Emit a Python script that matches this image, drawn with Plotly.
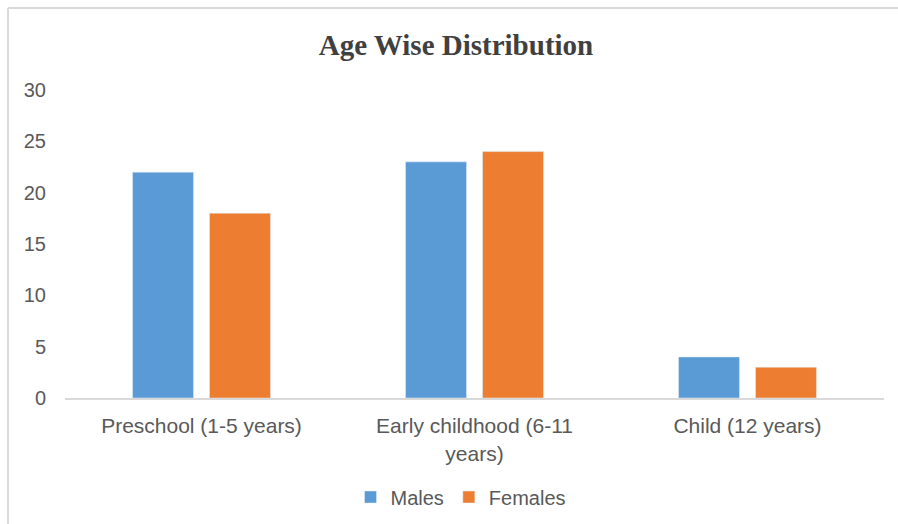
import plotly.graph_objects as go

categories = ["Preschool (1-5 years)", "Early childhood (6-11<br>years)", "Child (12 years)"]
males = [22, 23, 4]
females = [18, 24, 3]
y_ticks = [0, 5, 10, 15, 20, 25, 30]

W, H = 898, 524
TXT = "#595959"

fig = go.Figure()
fig.add_trace(go.Bar(name="Males", x=categories, y=males, marker_color="#5B9BD5"))
fig.add_trace(go.Bar(name="Females", x=categories, y=females, marker_color="#ED7D31"))

fig.update_layout(
    width=W, height=H,
    margin=dict(l=0, r=0, t=0, b=0, autoexpand=False),
    paper_bgcolor="white", plot_bgcolor="white",
    barmode="group", bargap=0.436, bargroupgap=0.208,
    font=dict(family="Liberation Sans, Arial, sans-serif", size=20, color=TXT),
    title=dict(text="<b>Age Wise Distribution</b>", x=456 / W, xanchor="center",
               y=1 - 45 / H, yanchor="middle",
               font=dict(family="Liberation Serif, Times New Roman, serif", size=29, color="#404040")),
    xaxis=dict(domain=[65 / W, 884 / W], showline=True, linecolor="#d9d9d9", linewidth=2,
               ticks="", showgrid=False, zeroline=False, ticklabelstandoff=8, automargin=False,
               tickfont=dict(size=21, color=TXT)),
    yaxis=dict(domain=[(H - 398) / H, (H - 90) / H], range=[0, 30], tickvals=y_ticks,
               showgrid=False, zeroline=False, showline=False, ticks="", automargin=False,
               ticklabelstandoff=18, tickfont=dict(size=20, color=TXT)),
    legend=dict(orientation="h", x=461 / W, xanchor="center", y=1 - 497 / H, yanchor="middle",
                font=dict(size=20, color=TXT), itemwidth=30, traceorder="normal"),
    showlegend=True,
)

fig.add_shape(type="line", xref="paper", yref="paper", x0=8 / W, x1=8 / W, y0=0, y1=1 - 8 / H,
              line=dict(color="#d9d9d9", width=2))
fig.add_shape(type="line", xref="paper", yref="paper", x0=8 / W, x1=1, y0=1 - 8 / H, y1=1 - 8 / H,
              line=dict(color="#d9d9d9", width=2))

fig.write_html("out.html")
